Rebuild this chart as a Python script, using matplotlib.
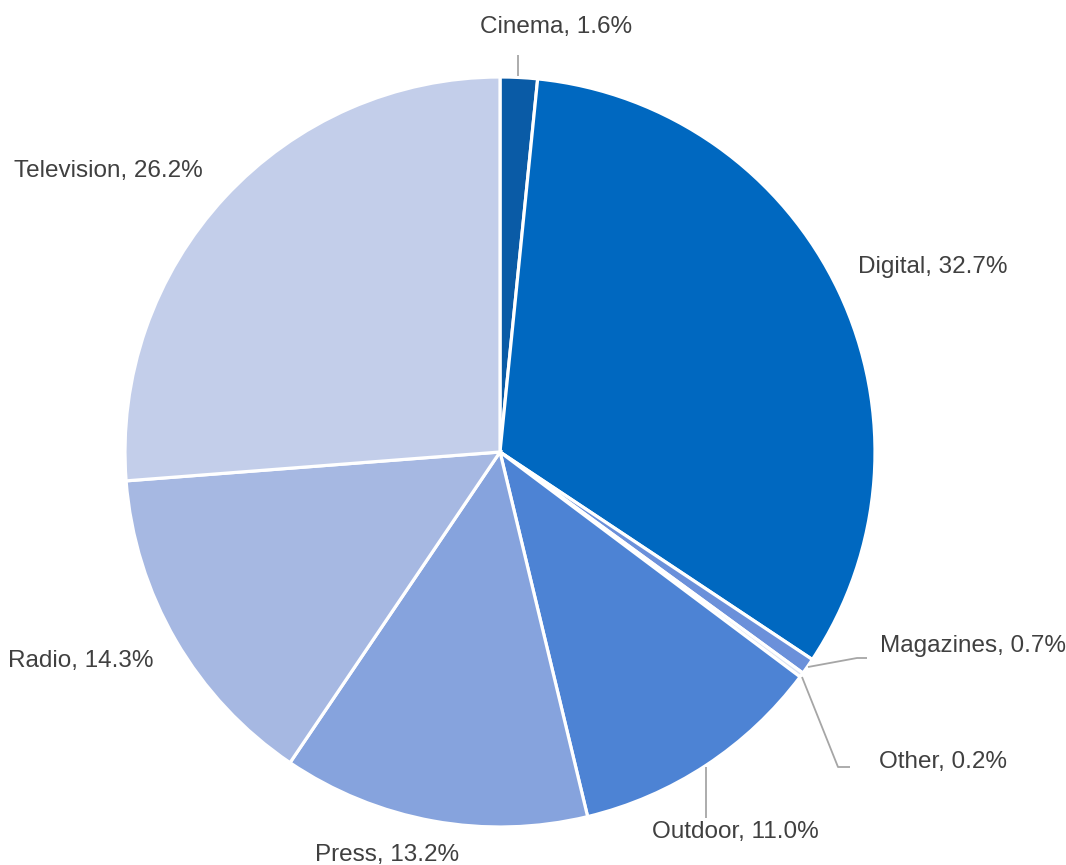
import matplotlib.pyplot as plt

#chart data
labels = ['Cinema', 'Digital', 'Magazines', 'Other', 'Outdoor', 'Press', 'Radio', 'Television']
shares = [1.6, 32.7, 0.7, 0.2, 11.0, 13.2, 14.3, 26.2]
colors = ['#0A5BA6', '#0068C0', '#6B90DA', '#DCE3F3', '#4D83D4', '#86A3DD', '#A6B8E2', '#C3CEEA']

# label anchor (pixel x, pixel y from top), alignment
lab_pos = [(556, 27, 'center'), (858, 267, 'left'), (880, 646, 'left'), (879, 762, 'left'),
           (735, 832, 'center'), (387, 855, 'center'), (8, 661, 'left'), (14, 171, 'left')]

# leader lines (pixel coords)
leaders = {'Cinema': [(518, 55), (518, 76)],
           'Magazines': [(808, 667), (857, 658), (867, 658)],
           'Other': [(802, 677), (838, 767), (850, 767)],
           'Outdoor': [(706, 767), (706, 818)]}

W, H = 1066, 865
plt.rcParams['font.family'] = ['Liberation Sans', 'DejaVu Sans']

fig = plt.figure(figsize=(W / 100, H / 100), dpi=100, facecolor='w')
ax = fig.add_axes([0, 0, 1, 1])

ax.pie(shares, colors=colors, center=(500, H - 452), radius=375, startangle=90,
       counterclock=False, normalize=True, frame=True,
       wedgeprops=dict(edgecolor='white', linewidth=2.3))
ax.set_xlim(0, W)
ax.set_ylim(0, H)
ax.set_aspect('equal')
ax.axis('off')

for name, pts in leaders.items():
    xs = [p[0] for p in pts]
    ys = [H - p[1] for p in pts]
    ax.plot(xs, ys, color='#A6A6A6', lw=1.3, solid_capstyle='butt')

for name, val, (px, py, ha) in zip(labels, shares, lab_pos):
    ax.text(px, H - py, '%s, %.1f%%' % (name, val), ha=ha, va='center',
            fontsize=17.5, color='#404040')

plt.savefig('out.png', dpi=100)
